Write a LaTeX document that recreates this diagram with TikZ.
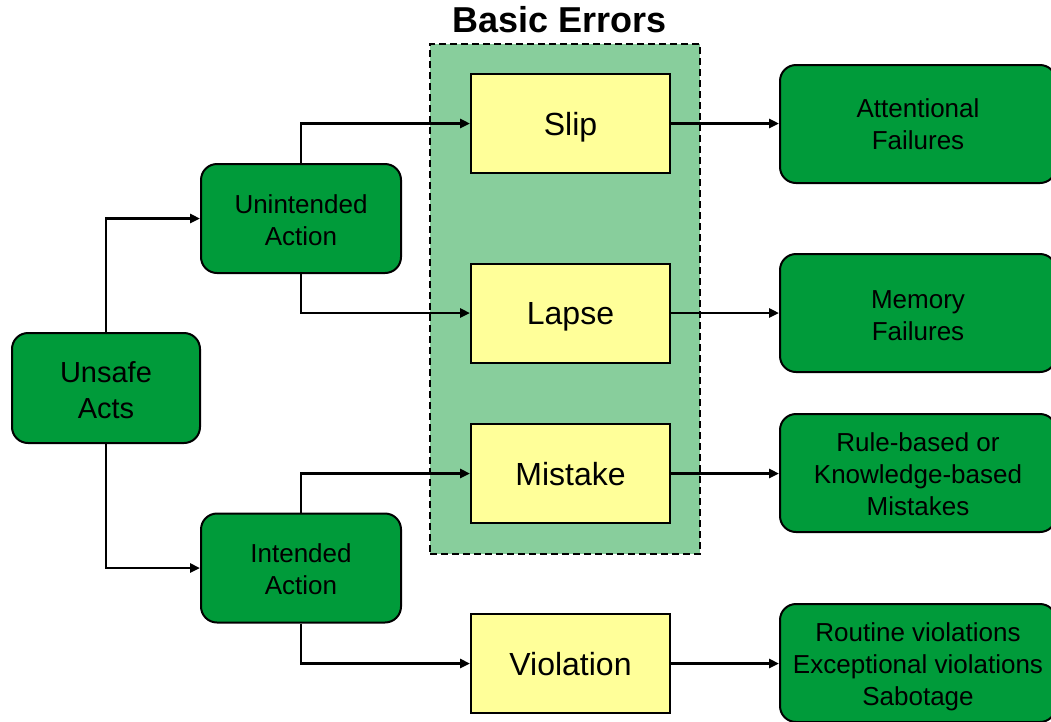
\documentclass[tikz,border=0pt]{standalone}
\usepackage{fontspec}
\setmainfont{Liberation Sans}
\usetikzlibrary{arrows.meta}
\definecolor{actgreen}{RGB}{0,155,58}
\definecolor{zonegreen}{RGB}{136,206,156}
\definecolor{errfill}{RGB}{255,255,153}

\begin{document}
\begin{tikzpicture}[x=1pt,y=-1pt,
  greenbox/.style={draw=black, line width=2pt, fill=actgreen, rounded corners=16pt,
                   inner sep=0pt},
  actbox/.style={greenbox, minimum width=200pt, minimum height=109pt},
  outbox/.style={greenbox, minimum width=276pt, minimum height=118pt},
  label/.style={align=center, inner sep=0pt, font=\fontsize{26}{32}\selectfont},
  errbox/.style={draw=black, line width=2pt, fill=errfill, inner sep=0pt,
                 minimum width=199pt, minimum height=99pt,
                 text height=23pt, text depth=0pt,
                 font=\fontsize{32}{38}\selectfont},
  conn/.style={line width=2.6pt, -{Triangle[length=10pt,width=9pt]}}
]
\useasboundingbox (0,0) rectangle (1051,721);
\clip (0,0) rectangle (1051,721);

% shaded region holding the basic error types
\node (zone) [draw=black, line width=1.8pt, dash pattern=on 7pt off 4pt, fill=zonegreen,
      minimum width=270pt, minimum height=510pt, inner sep=0pt] at (565,299) {};
\node (title) at (560,20) {\fontsize{36}{40}\selectfont\bfseries Basic Errors};

% root and the two kinds of action
\node (unsafe) [greenbox, minimum width=188pt, minimum height=110pt] at (106,388) {};
\node (unsafe-text) [label, font=\fontsize{29}{36}\selectfont] at (106,390) {Unsafe\\Acts};
\node (unintended) [actbox] at (301,218.5) {};
\node (unintended-text) [label] at (301,220.5) {Unintended\\Action};
\node (intended) [actbox] at (301,568) {};
\node (intended-text) [label] at (301,569) {Intended\\Action};

% error types
\node (slip) [errbox] at (570.5,123.5) {Slip};
\node (lapse) [errbox] at (570.5,313) {Lapse};
\node (mistake) [errbox] at (570.5,473.5) {Mistake};
\node (violation) [errbox] at (570.5,663.5) {Violation};

% underlying failure types
\node (attn) [outbox] at (918,124) {};
\node (attn-text) [label] at (918,124) {Attentional\\Failures};
\node (memory) [outbox] at (918,313) {};
\node (memory-text) [label] at (918,316) {Memory\\Failures};
\node (rule) [outbox] at (918,473) {};
\node (rule-text) [label] at (918,474) {Rule-based or\\Knowledge-based\\Mistakes};
\node (routine) [outbox] at (918,663) {};
\node (routine-text) [label] at (918,667) {Routine violations\\Exceptional violations\\Sabotage};

% connectors
\draw[conn] (unsafe.north) |- (unintended.west);
\draw[conn] (unsafe.south) |- (intended.west);
\draw[conn] (unintended.north) |- (slip.west);
\draw[conn] (unintended.south) |- (lapse.west);
\draw[conn] (intended.north) |- (mistake.west);
\draw[conn] (intended.south) |- (violation.west);
\draw[conn] (slip.east) -- (slip.east -| attn.west);
\draw[conn] (lapse.east) -- (lapse.east -| memory.west);
\draw[conn] (mistake.east) -- (mistake.east -| rule.west);
\draw[conn] (violation.east) -- (violation.east -| routine.west);
\end{tikzpicture}
\end{document}
